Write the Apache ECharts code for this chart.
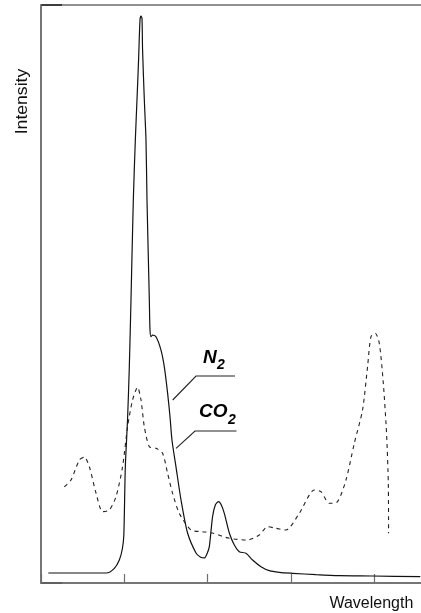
<!DOCTYPE html>
<html><head><meta charset="utf-8">
<script src="https://cdn.jsdelivr.net/npm/echarts@6/dist/echarts.min.js"></script>
<style>html,body{margin:0;padding:0;background:#fff}#c{width:421px;height:613px}</style>
</head><body><div id="c"></div>
<script>
// N2 spectrum (solid)
const n2Wavelength = [0.088,0.46,0.784,0.88,0.94,0.976,0.994,1.012,1.039,1.06,1.08,1.108,1.132,1.152,1.171,1.188,1.2,1.212,1.219,1.24,1.26,1.272,1.30,1.308,1.32,1.339,1.38,1.44,1.48,1.519,1.548,1.572,1.62,1.68,1.759,1.86,1.912,1.96,1.996,2.02,2.059,2.092,2.131,2.164,2.20,2.26,2.32,2.38,2.46,2.539,2.64,2.74,2.86,3.019,3.30,3.58,3.979,4.552];
const n2Intensity = [1.73,1.73,1.73,2.54,3.98,5.88,8.30,20.1,28.4,37.4,49.0,66.3,76.6,83.6,90.5,97.4,98.1,97.7,92.2,83.6,76.6,66.3,49.0,43.8,42.6,42.9,42.6,40.3,37.4,32.9,28.8,24.7,20.1,14.4,8.65,5.19,4.50,4.33,5.19,6.28,11.47,13.49,14.07,13.49,12.06,8.65,6.57,5.42,5.14,3.98,2.82,2.13,1.85,1.68,1.44,1.26,1.21,1.09];
// CO2 spectrum (dashed)
const co2Wavelength = [0.28,0.36,0.46,0.52,0.58,0.66,0.739,0.82,0.90,0.979,1.039,1.099,1.159,1.20,1.24,1.30,1.38,1.459,1.519,1.579,1.66,1.80,1.939,2.056,2.26,2.479,2.62,2.719,2.82,2.94,3.10,3.28,3.36,3.46,3.559,3.66,3.76,3.859,3.919,3.96,4.012,4.06,4.108,4.147,4.168,4.171];
const co2Intensity = [16.66,17.82,21.28,21.8,20.12,15.57,12.34,12.63,14.93,20.12,27.04,31.66,33.86,31.66,27.04,23.58,23.30,22.44,18.98,15.52,12.06,9.17,8.88,8.65,7.73,7.44,8.30,9.74,9.46,9.17,12.06,16.09,15.80,13.79,14.07,17.82,24.17,29.93,37.42,42.61,43.2,41.47,34.55,25.90,17.25,8.60];
const xAxisName = 'Wavelength';
const yAxisName = 'Intensity';
const seriesNames = ['N', 'CO'];
const subscripts = ['2', '2'];

const zip = (a, b) => a.map((v, i) => [v, b[i]]);
const chart = echarts.init(document.getElementById('c'), null, {renderer: 'canvas'});
const axisGray = '#6e6e6e';
const labelFont = 'bold italic 19px "Liberation Sans", Arial, sans-serif';
const subFont = 'bold italic 14px "Liberation Sans", Arial, sans-serif';
chart.setOption({
  animation: false,
  backgroundColor: '#fff',
  grid: {left: 41, top: 5, bottom: 30, width: 383.3, outerBoundsMode: 'none', containLabel: false,
         show: true, borderColor: axisGray, borderWidth: 1.5, backgroundColor: 'transparent'},
  xAxis: {
    type: 'value', min: 0, max: 4.6, interval: 1,
    axisLine: {show: true, lineStyle: {color: axisGray, width: 1.5}},
    axisTick: {show: true, inside: true, length: 9, lineStyle: {color: axisGray, width: 1.2}},
    axisLabel: {show: false}, splitLine: {show: false},
    name: xAxisName, nameLocation: 'end', nameGap: -11,
    nameTextStyle: {fontFamily: '"Liberation Sans", Arial, sans-serif', fontSize: 16, color: '#111', align: 'right', verticalAlign: 'top', padding: [13, 0, 0, 0]}
  },
  yAxis: {
    type: 'value', min: 0, max: 100,
    axisLine: {show: true, lineStyle: {color: axisGray, width: 1.5}},
    axisTick: {show: false}, axisLabel: {show: false}, splitLine: {show: false}
  },
  series: [
    {name: 'N2', type: 'line', data: zip(n2Wavelength, n2Intensity), showSymbol: false, smooth: 0.25,
     lineStyle: {color: '#111', width: 1.2}},
    {name: 'CO2', type: 'line', data: zip(co2Wavelength, co2Intensity), showSymbol: false, smooth: 0.25,
     lineStyle: {color: '#222', width: 1.1, type: [4, 4]}}
  ],
  graphic: [
    {type: 'text', x: 22.8, y: 101.5, rotation: Math.PI / 2, scaleX: 1.1,
     style: {text: yAxisName, font: '16px "Liberation Sans", Arial, sans-serif', fill: '#111', align: 'center', verticalAlign: 'middle'}},
    {type: 'line', shape: {x1: 41, y1: 5, x2: 62, y2: 5}, style: {stroke: '#222', lineWidth: 1.5}},
    {type: 'line', shape: {x1: 41, y1: 583, x2: 62, y2: 583}, style: {stroke: '#222', lineWidth: 1.5}},
    // N2 annotation
    {type: 'text', x: 203, y: 357.7, style: {text: seriesNames[0], font: labelFont, fill: '#000', align: 'left', verticalAlign: 'middle'}},
    {type: 'text', x: 217, y: 365, style: {text: subscripts[0], font: subFont, fill: '#000', align: 'left', verticalAlign: 'middle'}},
    {type: 'polyline', shape: {points: [[172.7, 400], [196, 376], [235, 376]]}, style: {stroke: '#222', lineWidth: 1.1, fill: null}},
    // CO2 annotation
    {type: 'text', x: 199, y: 411.7, style: {text: seriesNames[1], font: labelFont, fill: '#000', align: 'left', verticalAlign: 'middle'}},
    {type: 'text', x: 228, y: 420, style: {text: subscripts[1], font: subFont, fill: '#000', align: 'left', verticalAlign: 'middle'}},
    {type: 'polyline', shape: {points: [[176, 448.3], [195, 431], [236.5, 431]]}, style: {stroke: '#222', lineWidth: 1.1, fill: null}}
  ]
});
</script></body></html>
